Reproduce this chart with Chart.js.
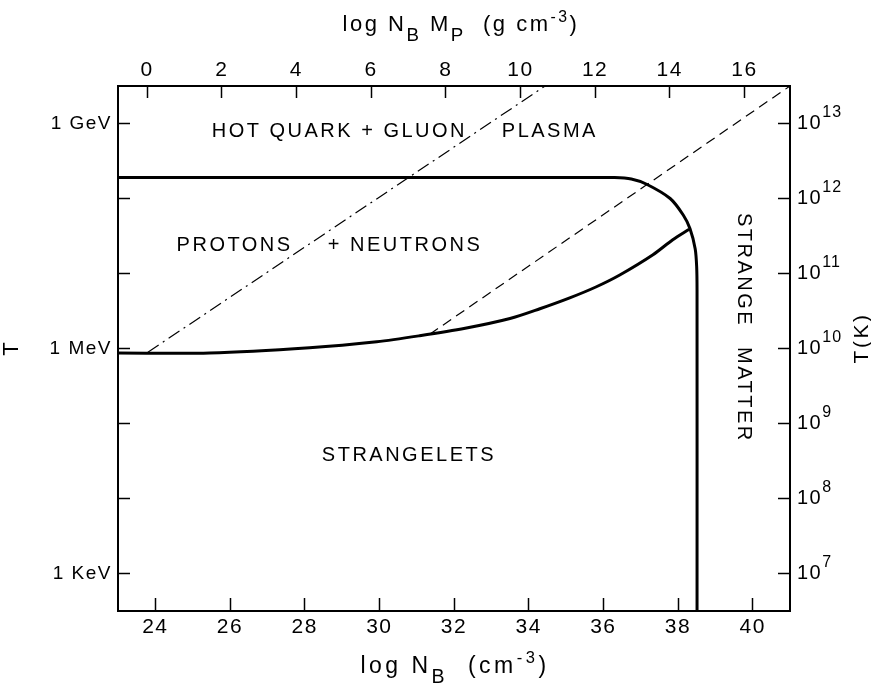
<!DOCTYPE html>
<html>
<head>
<meta charset="utf-8">
<script src="https://cdn.jsdelivr.net/npm/chart.js@4/dist/chart.umd.min.js"></script>
<style>
  html, body { margin: 0; padding: 0; background: #fff; }
  #wrap { width: 871px; height: 686px; }
</style>
</head>
<body>
<div id="wrap"><canvas id="c" width="871" height="686"></canvas></div>
<script>
// ---------- DATA ----------
// log N_B (cm^-3) on x, log10(T / eV) on y
const qgpBoundaryX = [23, 30, 35.5, 36.3, 36.75, 37.16, 37.79, 38.14, 38.32, 38.46, 38.50, 38.51, 38.51];
const qgpBoundaryY = [8.28, 8.28, 8.28, 8.28, 8.26, 8.19, 8.00, 7.78, 7.60, 7.33, 7.09, 6.78, 2.5];

const nucleonBoundaryX = [23, 25.45, 28.13, 29.93, 31.08, 32.3, 33.5, 34.3, 35.1, 35.8, 36.44, 37.33, 37.86, 38.30];
const nucleonBoundaryY = [5.94, 5.94, 6.01, 6.09, 6.17, 6.27, 6.40, 6.53, 6.675, 6.82, 6.98, 7.25, 7.45, 7.59];

const dashDotX = [23.8, 34.44];
const dashDotY = [5.95, 9.5];

const dashedX = [31.35, 41];
const dashedY = [6.19, 9.5];

const bottomTicks = [24, 26, 28, 30, 32, 34, 36, 38, 40];
const topTicks = [0, 2, 4, 6, 8, 10, 12, 14, 16];
const leftTicks = [3, 4, 5, 6, 7, 8, 9];
const leftTickLabels = { 9: '1 GeV', 6: '1 MeV', 3: '1 KeV' };
const rightTicks = [7, 8, 9, 10, 11, 12, 13];
const logProtonMass = -23.78;   // log10 M_P (g)
const kelvinOffset = 4;         // log T(K) ~ log T(eV) + 4 on this figure

const regionTexts = ['HOT QUARK + GLUON', 'PLASMA', 'PROTONS', '+ NEUTRONS', 'STRANGELETS', 'STRANGE', 'MATTER'];
const regionX = [25.51, 33.28, 24.57, 28.62, 28.46, 39.76, 39.76];
const regionY = [8.90, 8.90, 7.373, 7.373, 4.573, 7.807, 6.02];
const regionRot = [0, 0, 0, 0, 0, 1, 1];

// ---------- BUILD ----------
const pts = (xs, ys) => xs.map((x, i) => ({ x: x, y: ys[i] }));
const FONT = '"Liberation Sans", Arial, sans-serif';

function fixed(list) {
  return function (scale) { scale.ticks = list.map(v => ({ value: v })); };
}
const axisGrid = { drawOnChartArea: false, drawTicks: true, tickColor: '#000', tickWidth: 1.5 };
const axisBorder = { display: true, color: '#000', width: 2 };

function richText(ctx, segs, cx, baseY, size) {
  const fs = s => s.sub ? size * 0.85 : (s.sup ? size * 0.72 : size);
  let w = 0;
  segs.forEach(s => {
    ctx.font = fs(s) + 'px ' + FONT;
    s.w = ctx.measureText(s.t).width;
    w += s.w;
  });
  let x = cx - w / 2;
  segs.forEach(s => {
    ctx.font = fs(s) + 'px ' + FONT;
    const dy = s.sub ? size * 0.45 : (s.sup ? -size * 0.42 : 0);
    ctx.fillText(s.t, x, baseY + dy);
    x += s.w;
  });
}

const annotPlugin = {
  id: 'annot',
  beforeDraw(chart) { chart.ctx.letterSpacing = '1.5px'; },
  afterDraw(chart) {
    const ctx = chart.ctx;
    const xs = chart.scales.x, ys = chart.scales.y, y2 = chart.scales.y2;
    ctx.save();
    ctx.fillStyle = '#000';
    // region labels
    ctx.font = '20px ' + FONT;
    ctx.letterSpacing = '2.5px';
    ctx.textAlign = 'left';
    ctx.textBaseline = 'middle';
    regionTexts.forEach((t, i) => {
      const px = xs.getPixelForValue(regionX[i]);
      const py = ys.getPixelForValue(regionY[i]);
      if (regionRot[i]) {
        ctx.save(); ctx.translate(px, py); ctx.rotate(Math.PI / 2);
        ctx.fillText(t, 0, 0); ctx.restore();
      } else {
        ctx.fillText(t, px, py);
      }
    });
    // exponents of right axis
    ctx.textBaseline = 'middle';
    y2.ticks.forEach(t => {
      const py = y2.getPixelForValue(t.value);
      ctx.font = '20px ' + FONT;
      ctx.letterSpacing = '1.5px';
      const w = ctx.measureText('10').width;
      ctx.font = '16px ' + FONT;
      ctx.letterSpacing = '1px';
      ctx.fillText(String(t.value), y2.left + 7 + w, py - 11);
    });
    // axis titles
    ctx.letterSpacing = '2.5px';
    ctx.textBaseline = 'alphabetic';
    richText(ctx, [{ t: 'log N' }, { t: 'B', sub: true }, { t: ' M' }, { t: 'P', sub: true }, { t: '  (g cm' }, { t: '-3', sup: true }, { t: ')' }], 461, 31, 22);
    ctx.letterSpacing = '3.5px';
    richText(ctx, [{ t: 'log N' }, { t: 'B', sub: true }, { t: '  (cm' }, { t: '-3', sup: true }, { t: ')' }], 455, 673, 23);
    ctx.font = '22px ' + FONT;
    ctx.letterSpacing = '0px';
    ctx.textAlign = 'center';
    ctx.textBaseline = 'middle';
    ctx.save(); ctx.translate(12, 349); ctx.rotate(-Math.PI / 2); ctx.fillText('T', 0, 0); ctx.restore();
    ctx.font = '21px ' + FONT;
    ctx.letterSpacing = '2.5px';
    ctx.save(); ctx.translate(862, 338); ctx.rotate(-Math.PI / 2); ctx.fillText('T(K)', 0, 0); ctx.restore();
    ctx.restore();
  }
};

const tickFontX = { family: FONT, size: 21 };
const tickFontY = { family: FONT, size: 19 };
const tickFontR = { family: FONT, size: 20 };

new Chart(document.getElementById('c'), {
  type: 'line',
  data: {
    datasets: [
      { data: pts(qgpBoundaryX, qgpBoundaryY), borderColor: '#000', borderWidth: 3, pointRadius: 0, tension: 0.25, fill: false },
      { data: pts(nucleonBoundaryX, nucleonBoundaryY), borderColor: '#000', borderWidth: 3, pointRadius: 0, tension: 0.3, fill: false },
      { data: pts(dashDotX, dashDotY), borderColor: '#000', borderWidth: 1.2, borderDash: [13, 5, 2, 5], pointRadius: 0, fill: false },
      { data: pts(dashedX, dashedY), borderColor: '#000', borderWidth: 1.2, borderDash: [10, 6], pointRadius: 0, fill: false }
    ]
  },
  options: {
    responsive: false,
    animation: false,
    events: [],
    layout: { padding: 0 },
    plugins: { legend: { display: false }, tooltip: { enabled: false } },
    scales: {
      x: {
        type: 'linear', position: 'bottom', min: 23, max: 41,
        afterBuildTicks: fixed(bottomTicks),
        afterFit: s => { s.height = 75; },
        grid: Object.assign({ tickLength: -13 }, axisGrid),
        border: axisBorder,
        ticks: { color: '#000', font: tickFontX, padding: 17, autoSkip: false, maxRotation: 0 }
      },
      x2: {
        type: 'linear', position: 'top', display: true,
        min: 23 + logProtonMass, max: 41 + logProtonMass,
        afterBuildTicks: fixed(topTicks),
        afterFit: s => { s.height = 86; },
        grid: Object.assign({ tickLength: -12 }, axisGrid),
        border: axisBorder,
        ticks: { color: '#000', font: tickFontX, padding: 15, autoSkip: false, maxRotation: 0 }
      },
      y: {
        type: 'linear', position: 'left', min: 2.5, max: 9.5,
        afterBuildTicks: fixed(leftTicks),
        afterFit: s => { s.width = 118; },
        grid: Object.assign({ tickLength: -12 }, axisGrid),
        border: axisBorder,
        ticks: { color: '#000', font: tickFontY, padding: 18, autoSkip: false,
                 callback: v => leftTickLabels[v] || '' }
      },
      y2: {
        type: 'linear', position: 'right', display: true,
        min: 2.5 + kelvinOffset, max: 9.5 + kelvinOffset,
        afterBuildTicks: fixed(rightTicks),
        afterFit: s => { s.width = 81; },
        grid: Object.assign({ tickLength: -12 }, axisGrid),
        border: axisBorder,
        ticks: { color: '#000', font: tickFontR, padding: 19, autoSkip: false,
                 callback: () => '10' }
      }
    }
  },
  plugins: [annotPlugin]
});
</script>
</body>
</html>
